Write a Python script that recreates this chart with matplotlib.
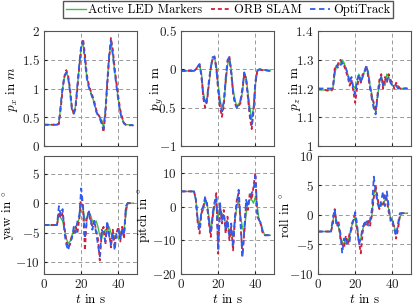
import numpy as np
import matplotlib
matplotlib.use("Agg")
import matplotlib.pyplot as plt
from matplotlib.ticker import FuncFormatter

plt.rcParams['font.family'] = 'serif'
plt.rcParams['font.serif'] = ['cmr10']
plt.rcParams['mathtext.fontset'] = 'cm'
plt.rcParams['axes.formatter.use_mathtext'] = True
plt.rcParams['axes.unicode_minus'] = False

# shared time base (s)
t = [0, 7, 8, 9, 10, 11, 12, 13, 14, 15, 16, 17, 18, 19, 20, 21, 22, 23, 24, 25, 26,
     27, 28, 29, 30, 31, 32, 33, 34, 35, 36, 37, 38, 39, 40, 41, 42, 43, 44, 45, 48]

# position p_x
px_led = [0.37, 0.37, 0.40, 0.70, 1.00, 1.20, 1.27, 1.20, 0.95, 0.65, 0.57, 0.70, 1.05, 1.40, 1.70, 1.80,
          1.50, 1.20, 1.05, 0.95, 0.85, 0.75, 0.62, 0.55, 0.50, 0.45, 0.32, 0.60, 1.10, 1.55, 1.80,
          1.60, 1.30, 1.05, 0.80, 0.60, 0.48, 0.40, 0.37, 0.37, 0.36]
px_orb = [0.37, 0.37, 0.38, 0.65, 0.98, 1.22, 1.32, 1.22, 1.00, 0.68, 0.55, 0.66, 1.00, 1.38, 1.72, 1.86,
          1.60, 1.25, 1.08, 0.97, 0.88, 0.78, 0.64, 0.56, 0.50, 0.42, 0.24, 0.55, 1.05, 1.50, 1.88,
          1.68, 1.35, 1.10, 0.85, 0.63, 0.50, 0.40, 0.37, 0.36, 0.36]
px_opti = [0.37, 0.37, 0.41, 0.72, 1.02, 1.22, 1.28, 1.18, 0.93, 0.63, 0.56, 0.72, 1.08, 1.43, 1.75, 1.82,
           1.48, 1.18, 1.03, 0.94, 0.84, 0.74, 0.60, 0.53, 0.48, 0.38, 0.30, 0.62, 1.12, 1.58, 1.83,
           1.58, 1.28, 1.03, 0.78, 0.58, 0.46, 0.39, 0.37, 0.37, 0.36]

# position p_y
py_led = [-0.02, -0.02, 0.00, 0.03, 0.05, -0.05, -0.30, -0.42, -0.40, -0.20, 0.00, 0.12, 0.15, 0.05,
          -0.20, -0.40, -0.50, -0.45, -0.20, 0.05, 0.15, 0.00, -0.25, -0.40, -0.48, -0.45, -0.42,
          -0.30, -0.08, -0.10, -0.30, -0.50, -0.65, -0.50, -0.20, -0.03, 0.00, 0.00, -0.01, -0.01, -0.02]
py_orb = [-0.02, -0.02, 0.00, 0.04, 0.06, -0.08, -0.38, -0.50, -0.42, -0.18, 0.02, 0.15, 0.17, 0.02,
          -0.28, -0.50, -0.62, -0.48, -0.15, 0.10, 0.17, -0.05, -0.32, -0.45, -0.50, -0.48, -0.44,
          -0.28, -0.05, -0.12, -0.38, -0.62, -0.78, -0.55, -0.18, -0.02, 0.00, -0.01, -0.01, -0.01, -0.02]
py_opti = [-0.02, -0.02, 0.00, 0.04, 0.07, -0.10, -0.35, -0.45, -0.38, -0.15, 0.03, 0.16, 0.16, 0.00,
           -0.25, -0.46, -0.55, -0.42, -0.12, 0.12, 0.16, -0.03, -0.30, -0.42, -0.50, -0.46, -0.40,
           -0.25, -0.04, -0.13, -0.35, -0.58, -0.72, -0.52, -0.15, -0.02, 0.00, 0.00, -0.01, -0.01, -0.02]

# position p_z
pz_led = [1.195, 1.195, 1.20, 1.25, 1.28, 1.28, 1.29, 1.30, 1.29, 1.27, 1.25, 1.23, 1.22, 1.21, 1.20,
          1.22, 1.25, 1.23, 1.24, 1.26, 1.27, 1.26, 1.21, 1.18, 1.14, 1.12, 1.17, 1.22, 1.24, 1.22,
          1.21, 1.25, 1.24, 1.22, 1.21, 1.21, 1.21, 1.21, 1.20, 1.20, 1.20]
pz_orb = [1.20, 1.19, 1.20, 1.27, 1.27, 1.29, 1.30, 1.29, 1.28, 1.26, 1.24, 1.21, 1.23, 1.19, 1.15,
          1.20, 1.24, 1.22, 1.25, 1.25, 1.28, 1.24, 1.20, 1.17, 1.15, 1.12, 1.18, 1.23, 1.25, 1.20,
          1.24, 1.22, 1.25, 1.23, 1.22, 1.20, 1.22, 1.21, 1.20, 1.20, 1.20]
pz_opti = [1.20, 1.20, 1.20, 1.26, 1.28, 1.27, 1.28, 1.29, 1.28, 1.27, 1.25, 1.22, 1.24, 1.20, 1.18,
           1.23, 1.25, 1.22, 1.24, 1.26, 1.28, 1.25, 1.21, 1.16, 1.13, 1.11, 1.17, 1.21, 1.24, 1.21,
           1.23, 1.23, 1.24, 1.22, 1.21, 1.21, 1.21, 1.20, 1.20, 1.20, 1.20]

# yaw (deg)
yaw_led = [-3.7, -3.7, -2.0, -2.5, -3.0, -4.5, -6.0, -6.8, -6.5, -5.5, -4.5, -4.0, -3.5, -2.5, 0.0, -1.0,
           -3.0, -2.5, -1.5, -2.0, -3.0, -3.5, -3.0, -4.0, -5.5, -6.0, -5.0, -4.5, -5.0, -4.0, -5.0,
           -6.0, -5.5, -5.5, -6.0, -5.0, -4.5, -4.5, -2.0, 0.0, 0.0]
yaw_orb = [-3.7, -3.7, -1.5, -2.5, -1.5, -4.0, -6.5, -7.5, -7.0, -5.5, -5.0, -4.0, -5.0, -2.5, 1.5, -1.0,
           -8.0, -2.5, -1.5, -3.0, -4.0, -3.0, -4.5, -6.0, -9.7, -5.0, -4.0, -7.0, -3.5, -5.0, -7.5,
           -4.5, -7.0, -5.0, -4.0, -6.5, -4.0, -6.0, -1.0, 0.0, 0.0]
yaw_opti = [-3.7, -3.7, -0.5, -2.0, -1.0, -5.0, -7.0, -8.0, -6.5, -6.0, -4.0, -5.0, -3.0, -2.0, 2.5, -0.5,
            -6.0, -3.0, -1.2, -2.5, -4.5, -3.0, -5.0, -7.0, -9.0, -4.5, -5.0, -6.5, -3.0, -5.5, -7.0,
            -5.0, -8.0, -5.0, -4.5, -6.0, -4.5, -5.5, -0.5, 0.0, 0.0]

# pitch (deg)
pitch_led = [4.5, 4.5, 2.0, -4.0, -5.0, -2.0, -1.0, 2.0, 1.0, -3.0, -7.0, -4.0, 0.0, 1.0, -3.0, -1.0,
             -2.0, -3.0, -5.0, -6.0, -7.0, -8.0, -9.0, -4.0, 0.0, 2.0, -3.0, -6.0, -8.0, -2.0, 1.0,
             2.0, 2.0, 1.0, 3.0, 0.0, -4.0, -5.0, -7.0, -8.5, -8.5]
pitch_orb = [4.5, 4.5, 2.0, -5.0, -8.0, -2.0, 0.0, 2.5, 1.0, -5.0, -9.0, -3.0, 1.0, 4.0, -14.0, 0.5,
             -5.0, -1.0, -8.0, -3.0, -10.0, -6.0, -13.0, -4.0, 2.0, 4.0, -5.0, -14.5, -8.0, 1.0, -1.0,
             4.0, 2.0, 6.0, 10.0, -3.0, -4.0, -5.5, -8.0, -8.5, -8.5]
pitch_opti = [4.5, 4.5, 2.0, -4.0, -7.0, -1.0, 0.0, 3.0, 0.0, -4.0, -8.0, -2.0, 1.0, 3.0, -13.0, 1.0,
              -4.0, -2.0, -7.0, -4.0, -9.0, -5.0, -12.0, -3.0, 1.0, 5.0, -4.0, -15.0, -7.0, 2.0, 0.0,
              3.0, 4.0, 5.0, 9.0, -2.0, -4.0, -5.0, -8.0, -8.5, -8.5]

# roll (deg)
roll_led = [-2.8, -2.8, -1.0, 0.5, -1.0, -2.0, -3.5, -4.5, -5.0, -4.0, -4.5, -3.5, -2.0, -1.0, -0.5, -2.0,
            -4.5, -4.0, -2.5, -1.5, -1.2, -1.5, -1.2, 0.0, 3.5, 4.5, 2.5, 1.5, 1.5, 2.0, 2.5,
            3.0, 1.0, -0.5, -1.0, -2.0, -3.0, -2.0, -0.5, 0.3, 0.3]
roll_orb = [-2.8, -2.8, -1.5, 1.0, -1.5, -1.0, -4.0, -5.0, -5.5, -3.5, -5.0, -3.0, -2.5, -0.5, 0.0, -2.5,
            -4.5, -6.5, -3.0, -1.0, -1.8, -1.0, -1.8, 0.0, 3.0, 5.0, 3.0, 1.0, 2.0, 1.5, 3.5,
            2.5, 0.5, -0.5, -1.5, -2.0, -4.0, -2.5, 0.0, 0.3, 0.3]
roll_opti = [-2.8, -2.8, -0.5, 1.0, -2.0, -1.5, -3.0, -6.5, -4.0, -5.0, -4.0, -4.5, -1.5, -1.0, 0.5, -1.5,
             -5.0, -4.0, -2.0, -1.5, -0.8, -1.8, -0.8, 1.0, 6.5, 4.0, 2.0, 1.0, 2.5, 4.0, 1.5,
             4.0, 1.5, -1.0, -0.5, -2.5, -3.5, -1.5, 0.3, 0.3, 0.3]

panels = [
    (px_led, px_orb, px_opti, (0, 2), [0, 0.5, 1, 1.5, 2], r'$p_x$ in $m$', -0.26),
    (py_led, py_orb, py_opti, (-1, 0.5), [-1, -0.5, 0, 0.5], r'$p_y$ in m', -0.16),
    (pz_led, pz_orb, pz_opti, (1, 1.4), [1, 1.1, 1.2, 1.3, 1.4], r'$p_z$ in m', -0.16),
    (yaw_led, yaw_orb, yaw_opti, (-12, 8), [-10, -5, 0, 5], r'yaw in ${}^{\circ}$', -0.29),
    (pitch_led, pitch_orb, pitch_opti, (-20, 15), [-20, -10, 0, 10], r'pitch in ${}^{\circ}$', -0.315),
    (roll_led, roll_orb, roll_opti, (-10, 10), [-10, -5, 0, 5, 10], r'roll in ${}^{\circ}$', -0.28),
]

c_led = '#3cbf4a'
c_orb = '#d0203a'
c_opti = '#2f5cf0'

fig = plt.figure(figsize=(4.16, 3.07), dpi=100)
lefts = [44 / 416, 181 / 416, 318 / 416]
w = 93 / 416
rows = [(1 - 146 / 307, 115 / 307), (1 - 274 / 307, 118 / 307)]

fmt = FuncFormatter(lambda v, p: '$%g$' % v)

for i, (led, orb, opti, ylim, yt, ylab, lx) in enumerate(panels):
    r, c = divmod(i, 3)
    ax = fig.add_axes([lefts[c], rows[r][0], w, rows[r][1]])
    l1, = ax.plot(t, led, color=c_led, lw=1.0, label='Active LED Markers')
    l2, = ax.plot(t, orb, color=c_orb, lw=1.3, ls=(0, (2.2, 1.6)), label='ORB SLAM')
    l3, = ax.plot(t, opti, color=c_opti, lw=1.3, ls=(0, (3, 2)), label='OptiTrack')
    ax.set_xlim(0, 50)
    ax.set_ylim(*ylim)
    ax.set_xticks([0, 20, 40])
    ax.set_yticks(yt)
    ax.yaxis.set_major_formatter(fmt)
    ax.xaxis.set_major_formatter(fmt)
    ax.grid(True, color='#999999', ls=(0, (4, 3)), lw=0.7)
    ax.tick_params(direction='in', length=2, labelsize=9.5, colors='#222222', pad=3)
    for s in ax.spines.values():
        s.set_color('#555555')
        s.set_linewidth(0.8)
    ax.set_ylabel(ylab, fontsize=9.5)
    ax.yaxis.set_label_coords(lx, 0.5)
    if r == 0:
        ax.tick_params(labelbottom=False)
    else:
        ax.set_xlabel(r'$t$ in s', fontsize=9.5, labelpad=1)

fig.legend([l1, l2, l3], ['Active LED Markers', 'ORB SLAM', 'OptiTrack'],
           loc='upper center', bbox_to_anchor=(0.548, 1.0), ncol=3, fontsize=9,
           frameon=True, fancybox=False, edgecolor='#555555', framealpha=1,
           handlelength=1.6, columnspacing=0.7, handletextpad=0.2,
           borderpad=0.2, borderaxespad=0.1)

fig.savefig('out.png', dpi=100)
